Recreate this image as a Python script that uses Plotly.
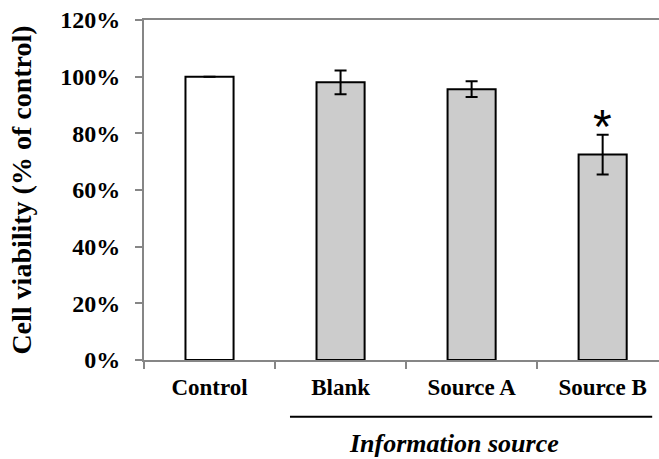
import plotly.graph_objects as go

categories = ["Control", "Blank", "Source A", "Source B"]
viability = [100, 98.0, 95.6, 72.5]
errors = [None, 4.2, 2.8, 7.0]
fills = ["#ffffff", "#cccccc", "#cccccc", "#cccccc"]
y_ticks = [0, 20, 40, 60, 80, 100, 120]
y_tick_labels = ["0%", "20%", "40%", "60%", "80%", "100%", "120%"]
group_label = "Information source"
y_title = "Cell viability (% of control)"
signif_marker = "*"

SERIF = "Liberation Serif"
AXIS_GRAY = "#868686"

fig = go.Figure()
fig.add_trace(go.Bar(
    x=categories, y=viability, width=0.367,
    marker=dict(color=fills, line=dict(color="black", width=2)),
    error_y=dict(type="data", array=errors, visible=True,
                 color="black", thickness=2, width=6),
    showlegend=False,
))

fig.update_layout(
    width=659, height=459,
    margin=dict(l=144, r=0, t=20, b=99),
    plot_bgcolor="white", paper_bgcolor="white",
    font=dict(family=SERIF, color="black", size=22),
    xaxis=dict(
        type="category", range=[-0.5, 3.43], automargin=False,
        showline=True, linecolor=AXIS_GRAY, linewidth=2, mirror=True,
        ticks="outside", ticklen=7, tickcolor=AXIS_GRAY, tickwidth=1.5,
        tickson="boundaries", showgrid=False,
        tickfont=dict(family=SERIF, size=23, color="black", weight="bold"),
        ticklabelstandoff=5,
    ),
    yaxis=dict(
        range=[0, 120], tickvals=y_ticks, ticktext=y_tick_labels,
        automargin=False,
        showline=True, linecolor=AXIS_GRAY, linewidth=2,
        ticks="outside", ticklen=7, tickcolor=AXIS_GRAY, tickwidth=1.5,
        showgrid=False, zeroline=False,
        tickfont=dict(family=SERIF, size=24, color="black", weight="bold"),
        ticklabelstandoff=10,
        title=dict(text=y_title, standoff=20,
                   font=dict(family=SERIF, size=28, color="black", weight="bold")),
    ),
)

# bracket under the treated groups
fig.add_shape(type="line", xref="x", yref="paper",
              x0=0.614, x1=3.378, y0=-0.167, y1=-0.167,
              line=dict(color="black", width=2))
fig.add_annotation(xref="x", yref="paper", x=1.866, y=-99 / 340,
                   text="<b><i>" + group_label + "</i></b>", showarrow=False,
                   font=dict(family=SERIF, size=26, color="black"),
                   yanchor="bottom", borderpad=0)
# significance marker
fig.add_annotation(xref="x", yref="y", x=3, y=viability[3] + errors[3],
                   text=signif_marker, showarrow=False, yanchor="middle",
                   yshift=8,
                   font=dict(family="Liberation Sans", size=48, color="black"))

fig.write_html("out.html", config={"displayModeBar": False},
               post_script="document.body.style.margin='0';")
